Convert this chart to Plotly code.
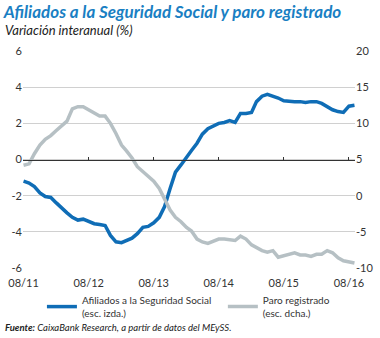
import plotly.graph_objects as go
import pandas as pd

# Monthly data, 08/2011 onwards
start_month = "2011-08-01"
afiliados = [-1.2, -1.3, -1.5, -1.85, -2.05, -2.1, -2.4, -2.7, -2.95, -3.2,
             -3.35, -3.3, -3.45, -3.55, -3.6, -3.65, -4.2, -4.55, -4.6, -4.5,
             -4.35, -4.1, -3.75, -3.7, -3.5, -3.2, -2.6, -1.6, -0.7, -0.3,
             0.15, 0.5, 0.9, 1.4, 1.7, 1.85, 2.0, 2.05, 2.15, 2.05,
             2.55, 2.55, 2.6, 3.2, 3.5, 3.6, 3.5, 3.4, 3.25, 3.2,
             3.2, 3.2, 3.15, 3.2, 3.2, 3.1, 2.9, 2.75, 2.65, 2.6,
             2.95, 3.0]
paro = [4.2, 4.4, 5.8, 7.0, 7.8, 8.3, 9.0, 9.6, 10.3, 12.0,
        12.3, 12.3, 11.9, 11.4, 11.0, 11.0, 10.0, 8.6, 7.0, 6.2,
        5.2, 4.0, 3.3, 2.7, 2.0, 1.0, -0.6, -2.0, -3.0, -3.6,
        -4.4, -4.9, -6.0, -6.4, -6.6, -6.3, -6.0, -6.0, -6.1, -6.2,
        -5.6, -6.0, -6.8, -7.2, -7.6, -7.8, -7.6, -8.5, -8.3, -8.1,
        -7.9, -8.2, -8.2, -8.4, -8.1, -8.1, -7.6, -7.9, -8.6, -9.0,
        -9.2, -9.3]
dates = pd.date_range(start_month, periods=len(afiliados), freq="MS")

x_tickvals = ["2011-08-01", "2012-08-01", "2013-08-01", "2014-08-01", "2015-08-01", "2016-08-01"]
x_ticktext = ["08/11", "08/12", "08/13", "08/14", "08/15", "08/16"]
left_vals = [6, 4, 2, 0, -2, -4, -6]
left_text = ["6", "4", "2", "0", "-2", "-4", "-6"]
right_vals = [20, 15, 10, 5, 0, -5, -10]
right_text = ["20", "15", "10", "5", "0", "-5", "-10"]

BLUE = "#0f6db6"
GRAY = "#b6c0c4"
TXT = "#333333"
FONT = "Lato"

fig = go.Figure()
fig.add_trace(go.Scatter(x=dates, y=afiliados, mode="lines",
                         name="Afiliados a la Seguridad Social<br>(esc. izda.)",
                         line=dict(color=BLUE, width=3.5), yaxis="y", xaxis="x",
                         legend="legend"))
fig.add_trace(go.Scatter(x=dates, y=paro, mode="lines",
                         name="Paro registrado<br>(esc. dcha.)",
                         line=dict(color=GRAY, width=3.5), yaxis="y2", xaxis="x",
                         legend="legend2"))

legend_common = dict(orientation="v", xanchor="left", y=-0.088, yanchor="top",
                     font=dict(size=10, color=TXT), bgcolor="rgba(0,0,0,0)")

fig.update_layout(
    width=380, height=338,
    margin=dict(l=23, r=25, t=51, b=70, autoexpand=False),
    paper_bgcolor="white", plot_bgcolor="white",
    font=dict(family=FONT, color=TXT, size=11),
    title=dict(text="<b><i>Afiliados a la Seguridad Social y paro registrado</i></b>",
               font=dict(family=FONT, size=17, color="#1a7fc3"),
               x=0.01, xanchor="left", xref="container",
               y=1 - 12 / 338, yanchor="middle", yref="container"),
    xaxis=dict(range=[dates[0] - pd.Timedelta(days=3), dates[-1] + pd.Timedelta(days=3)],
               tickvals=x_tickvals, ticktext=x_ticktext,
               showgrid=False, showline=False, zeroline=False, ticks="",
               ticklabelstandoff=7,
               tickfont=dict(size=11, color=TXT), automargin=False),
    xaxis2=dict(matches="x", overlaying="x", anchor="free", position=0.5,
                side="bottom", tickvals=x_tickvals, showticklabels=False,
                showgrid=False, zeroline=False, showline=True, linecolor="#333333",
                linewidth=1, ticks="inside", ticklen=3, tickcolor="#333333"),
    yaxis=dict(range=[-6, 6], tickvals=left_vals, ticktext=left_text,
               showgrid=True, gridcolor="#d0d0d0", gridwidth=1, zeroline=False,
               ticks="", tickfont=dict(size=11, color=TXT), showline=False,
               automargin=False),
    yaxis2=dict(range=[-10, 20], tickvals=right_vals, ticktext=right_text,
                overlaying="y", side="right", showgrid=False, zeroline=False,
                ticks="", tickfont=dict(size=11, color=TXT), showline=False,
                automargin=False),
    legend=dict(x=0.057, **legend_common),
    legend2=dict(x=0.602, **legend_common),
    annotations=[
        dict(text="<i>Variación interanual (%)</i>", xref="paper", yref="paper",
             x=-0.06, y=1.097, xanchor="left", yanchor="middle", showarrow=False,
             font=dict(family=FONT, size=13, color="#222222")),
        dict(text="<b><i>Fuente:</i></b><i> CaixaBank Research, a partir de datos del MEySS.</i>",
             xref="paper", yref="paper", x=-0.06, y=-0.272, xanchor="left",
             yanchor="middle", showarrow=False,
             font=dict(family=FONT, size=9.5, color="#222222")),
    ],
)
# dummy trace to activate xaxis2 line
fig.add_trace(go.Scatter(x=[dates[0]], y=[None], xaxis="x2", yaxis="y",
                         showlegend=False, hoverinfo="skip"))

fig.write_html("out.html")
